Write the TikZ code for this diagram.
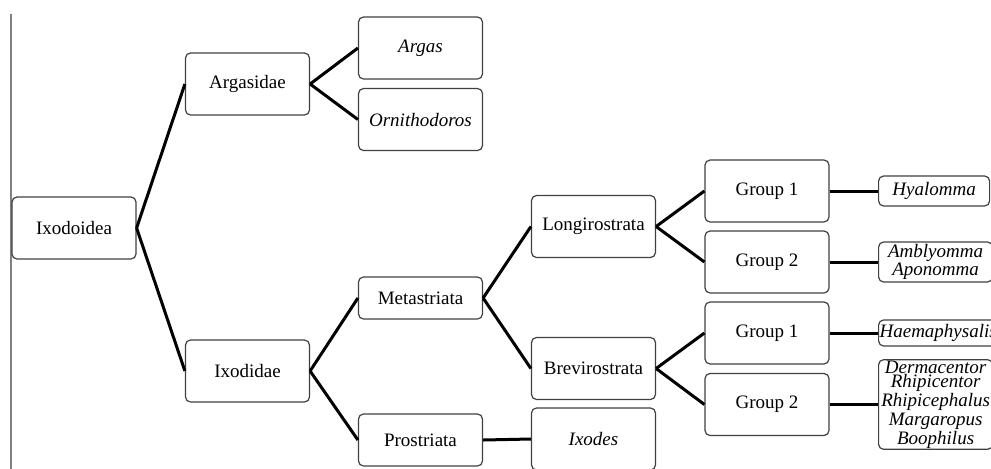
\documentclass[tikz,border=0pt]{standalone}
\usepackage{fontspec}
\setmainfont{Liberation Serif}
\begin{document}
\begin{tikzpicture}[x=0.5pt, y=-0.5pt,
    box/.style={draw=black!75, line width=0.6pt, rounded corners=2.5pt, minimum width=62pt, minimum height=31pt, inner sep=1pt, font=\fontsize{9.5}{11}\selectfont},
    genus/.style={draw=black!75, line width=0.6pt, rounded corners=2.5pt, anchor=west, inner sep=0.5pt, align=center, font=\fontsize{9.5}{7.1}\selectfont\itshape},
    edge/.style={line width=1.5pt}]
\useasboundingbox (0,0) rectangle (991,468);
\draw[gray, line width=1pt] (11,14) -- (11,470);

\node[box] (I)  at (74,228)    {Ixodoidea};
\node[box] (Ar) at (247.5,84)  {Argasidae};
\node[box] (Ix) at (247.5,371) {Ixodidae};
\node[box, font=\fontsize{9.5}{11}\selectfont\itshape] (Ag) at (420.5,48)    {Argas};
\node[box, font=\fontsize{9.5}{11}\selectfont\itshape] (Or) at (420.5,119.5) {Ornithodoros};
\node[box, minimum height=21pt] (Me) at (420.5,298) {Metastriata};
\node[box, minimum height=26pt] (Pr) at (420.5,440) {Prostriata};
\node[box] (Lo) at (593.5,226.5) {Longirostrata};
\node[box] (Br) at (593.5,368.5) {Brevirostrata};
\node[box, font=\fontsize{9.5}{11}\selectfont\itshape] (Xo) at (593.5,439) {Ixodes};
\node[box] (G1) at (767,191)   {Group 1};
\node[box] (G2) at (767,262)   {Group 2};
\node[box] (G3) at (767,333)   {Group 1};
\node[box] (G4) at (767,404.5) {Group 2};

\node[genus, minimum width=55.5pt, minimum height=15pt] (Hy) at (878,191) {Hyalomma};
\node[genus, minimum width=57pt, minimum height=20pt] (Am) at (878,262) {Amblyomma\\Aponomma};
\node[genus, minimum width=57pt, minimum height=13pt] (Ha) at (878,333) {Haemaphysalis};
\node[genus, minimum width=57pt, minimum height=41.5pt] (De) at (878,404.5) {Dermacentor\\Rhipicentor\\Rhipicephalus\\Margaropus\\Boophilus};

\draw[edge] (I.east) -- (Ar.west);
\draw[edge] (I.east) -- (Ix.west);
\draw[edge] (Ar.east) -- (Ag.west);
\draw[edge] (Ar.east) -- (Or.west);
\draw[edge] (Ix.east) -- (Me.west);
\draw[edge] (Ix.east) -- (Pr.west);
\draw[edge] (Me.east) -- (Lo.west);
\draw[edge] (Me.east) -- (Br.west);
\draw[edge] (Pr.east) -- (Xo.west);
\draw[edge] (Lo.east) -- (G1.west);
\draw[edge] (Lo.east) -- (G2.west);
\draw[edge] (Br.east) -- (G3.west);
\draw[edge] (Br.east) -- (G4.west);
\draw[edge] (G1.east) -- (Hy.west);
\draw[edge] (G2.east) -- (Am.west);
\draw[edge] (G3.east) -- (Ha.west);
\draw[edge] (G4.east) -- (De.west);
\end{tikzpicture}
\end{document}
